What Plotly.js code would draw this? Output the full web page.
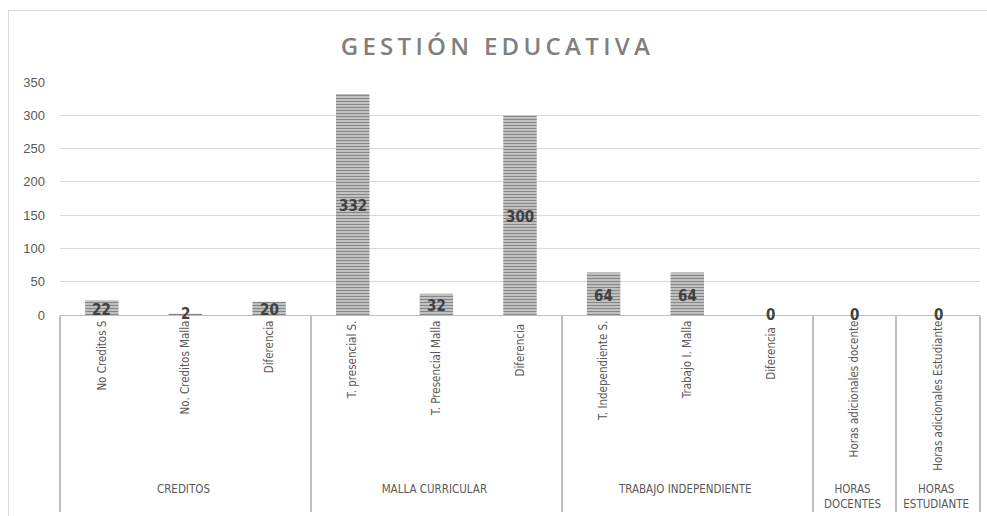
<!DOCTYPE html>
<html><head><meta charset="utf-8">
<script src="https://cdn.plot.ly/plotly-3.0.1.min.js"></script>
<style>
html,body{margin:0;padding:0;background:#fff;}
#wrap{position:relative;width:987px;height:516px;}
#chart{width:987px;height:516px;}
#frame{position:absolute;left:8px;top:10px;width:980px;height:520px;border:1px solid #d9d9d9;pointer-events:none;}
.gtitle{letter-spacing:4.3px;}
</style></head>
<body>
<div id="wrap"><div id="chart"></div><div id="frame"></div></div>
<script>
const groups = ["CREDITOS","CREDITOS","CREDITOS","MALLA CURRICULAR","MALLA CURRICULAR","MALLA CURRICULAR","TRABAJO INDEPENDIENTE","TRABAJO INDEPENDIENTE","TRABAJO INDEPENDIENTE","HORAS<br>DOCENTES","HORAS<br>ESTUDIANTE"];
const categories = ["No Creditos S","No. Creditos Malla","Diferencia","T. presencial S.","T. Presencial Malla","Diferencia ","T. Independiente S.","Trabajo I. Malla","Diferencia  ","Horas adicionales docente","Horas adicionales Estudiante"];
const values = [22,2,20,332,32,300,64,64,0,0,0];
const yTicks = [0,50,100,150,200,250,300,350];

const trace = {
  type:'bar',
  x:[groups, categories],
  y:values,
  width:0.4,
  marker:{color:'#b8b8b8', line:{width:0},
    pattern:{shape:'-', fgcolor:'#878787', bgcolor:'#cccccc', size:3, solidity:0.45}},
  hoverinfo:'skip'
};

const annotations = values.map((v,i)=>({
  x:i, xref:'x', y:v/2, yref:'y', text:String(v), showarrow:false,
  font:{family:'"Liberation Sans Narrow","DejaVu Sans Condensed",sans-serif', size:15, color:'#404040', weight:700},
  yshift: v<10 ? 0 : -2
}));

const layout = {
  width:987, height:516,
  margin:{l:60, r:7, t:82, b:201},
  paper_bgcolor:'#fff', plot_bgcolor:'#fff',
  title:{text:'GESTIÓN EDUCATIVA', x:0.504, xanchor:'center', y:0.91, yanchor:'middle',
    font:{family:'"Open Sans",sans-serif', size:24, color:'#7f7f7f', weight:600}},
  showlegend:false,
  xaxis:{type:'multicategory', tickangle:-90, showline:true, linecolor:'#bfbfbf', linewidth:1,
    showdividers:true, dividercolor:'#bfbfbf', dividerwidth:2, ticks:'',
    tickfont:{family:'"Liberation Sans Narrow","DejaVu Sans Condensed",sans-serif', size:11.5, color:'#595959'}},
  yaxis:{range:[0,350], tickvals:yTicks, showgrid:true, gridcolor:'#d9d9d9', zeroline:false,
    showline:false, ticks:'', ticklabelstandoff:14,
    tickfont:{family:'"Liberation Sans",sans-serif', size:13, color:'#595959'}},
  annotations:annotations
};
Plotly.newPlot('chart',[trace],layout,{displayModeBar:false,staticPlot:true});
</script>
</body></html>
